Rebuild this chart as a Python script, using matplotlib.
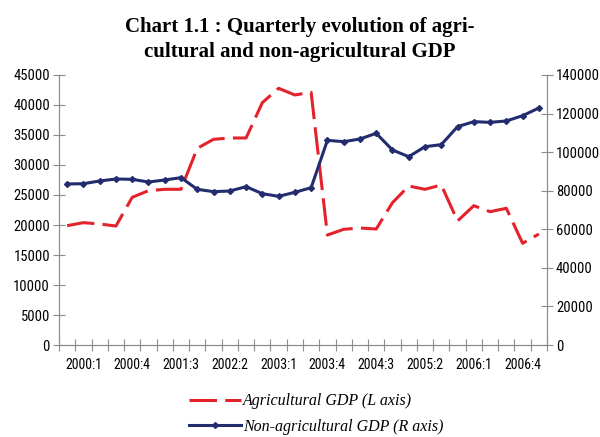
import matplotlib
matplotlib.use("Agg")
import matplotlib.pyplot as plt
from matplotlib import font_manager
import numpy as np

# Trimestres 2000:1 .. 2007:2
trimestres = [f"{a}:{q}" for a in range(2000, 2008) for q in range(1, 5)][:30]

# PIB agricola (eje izquierdo)
pib_agricola = [19890, 20390, 20170, 19830, 24610, 25720, 25950, 25950,
                32780, 34280, 34500, 34500, 40390, 42780, 41670, 42110,
                18330, 19280, 19500, 19330, 23720, 26500, 25950, 26670,
                20670, 23220, 22220, 22780, 16950, 18500]

# PIB no agricola (eje derecho)
pib_no_agricola = [83480, 83650, 85040, 86080, 85900, 84520, 85560, 86770,
                   80720, 79510, 79850, 82100, 78470, 77090, 79160, 81580,
                   106120, 105430, 106810, 109750, 101110, 97650, 102840, 103880,
                   113210, 115800, 115460, 116150, 118910, 122890]

ROJO = "#E3222B"
AZUL = "#232C6E"
GRIS = "#8C8C8C"

# fuente estrecha para los ejes si existe
nombres = {f.name for f in font_manager.fontManager.ttflist}
FUENTE_EJES, TAM_EJES = "Liberation Sans", 9.8
for nombre in ("Roboto Condensed", "Liberation Sans Narrow", "Open Sans Condensed"):
    if nombre in nombres:
        FUENTE_EJES, TAM_EJES = nombre, 10.5
        break

fig = plt.figure(figsize=(6, 4.37), dpi=100)
ax = fig.add_axes([0.0983, 0.2105, 0.8134, 0.6179])
ax2 = ax.twinx()

x = np.arange(len(trimestres))
l1, = ax.plot(x, pib_agricola, color=ROJO, lw=2.2, linestyle=(0, (9, 2.7)),
              label="Agricultural GDP (L axis)")
l2, = ax2.plot(x, pib_no_agricola, color=AZUL, lw=2.2, marker="D", ms=3,
               label="Non-agricultural GDP (R axis)")

ax.set_xlim(-0.5, len(x) - 0.5)
ax.set_ylim(0, 45000)
ax2.set_ylim(0, 140000)
ax.set_yticks(np.arange(0, 45001, 5000))
ax2.set_yticks(np.arange(0, 140001, 20000))

# etiquetas cada 3 trimestres, centradas en el grupo
ax.set_xticks(np.arange(-0.5, len(x), 1.0))
ax.set_xticks(np.arange(1, len(x), 3), minor=True)
ax.set_xticklabels([])
ax.set_xticklabels(trimestres[0:len(x):3][:10], minor=True)
ax.tick_params(axis="x", which="major", direction="inout", length=8, color=GRIS)
ax.tick_params(axis="x", which="minor", length=0, pad=9)

for a in (ax, ax2):
    a.tick_params(axis="y", direction="inout", length=8, color=GRIS,
                  labelsize=TAM_EJES, pad=2.5)
    a.tick_params(axis="x", labelsize=TAM_EJES)
    for s in a.spines.values():
        s.set_color(GRIS)
    a.spines["top"].set_visible(False)
    for lab in a.get_yticklabels() + a.get_xticklabels(minor=True):
        lab.set_fontfamily(FUENTE_EJES)

fig.suptitle("Chart 1.1 : Quarterly evolution of agri-\ncultural and non-agricultural GDP",
             fontfamily="Liberation Serif", fontweight="bold", fontsize=15,
             y=0.962, linespacing=1.35)

fig.legend(handles=[l1, l2], loc="upper left", bbox_to_anchor=(0.305, 0.115),
           frameon=False, numpoints=1, handlelength=3.2, handletextpad=0.15,
           labelspacing=0.6, borderaxespad=0,
           prop={"family": "Liberation Serif", "style": "italic", "size": 11.5})

fig.savefig("out.png", dpi=100)
